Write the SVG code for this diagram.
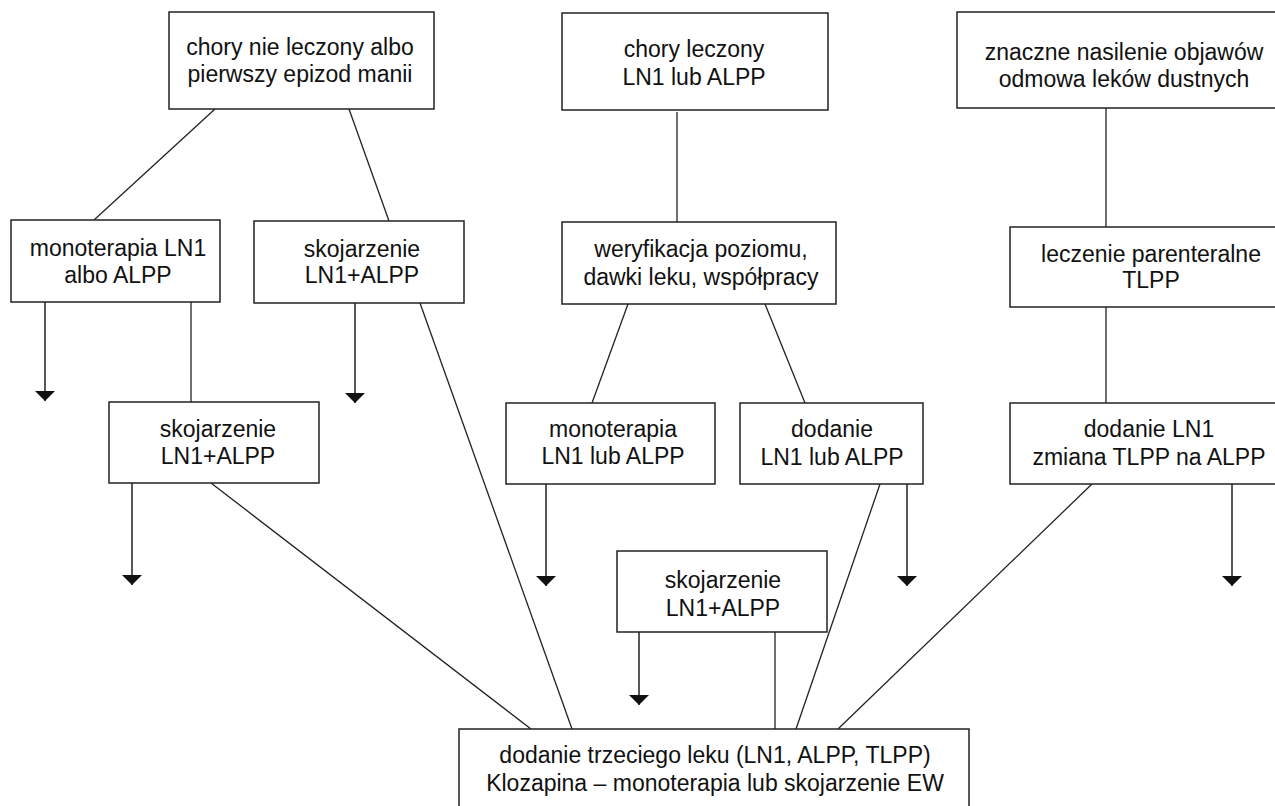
<svg xmlns="http://www.w3.org/2000/svg" width="1275" height="806" viewBox="0 0 1275 806">
<defs>
<style>
.box{fill:#fff;stroke:#222;stroke-width:1.5}
.t{font-family:"Liberation Sans",Arial,Helvetica,sans-serif;font-size:23px;fill:#111;text-anchor:middle}
.c{stroke:#222;stroke-width:1.3;fill:none}
.a{stroke:#222;stroke-width:1.5;fill:none;marker-end:url(#ah)}
</style>
<marker id="ah" markerUnits="userSpaceOnUse" markerWidth="10" markerHeight="20" viewBox="0 0 10 20" refX="10" refY="10" orient="auto">
<path d="M0,0 L10,10 L0,20 z" fill="#111"/>
</marker>
</defs>
<rect width="1275" height="806" fill="#fff"/>
<g id="connectors">
<line class="c" x1="215" y1="109" x2="94" y2="220"/>
<line class="c" x1="349" y1="109" x2="389" y2="221"/>
<line class="c" x1="677" y1="112" x2="677" y2="222"/>
<line class="c" x1="1106" y1="108" x2="1106" y2="227"/>
<line class="c" x1="191" y1="302" x2="191" y2="402"/>
<line class="c" x1="420" y1="303" x2="572" y2="729"/>
<line class="c" x1="628" y1="304" x2="592" y2="403"/>
<line class="c" x1="765" y1="304" x2="805" y2="403"/>
<line class="c" x1="1106" y1="307" x2="1106" y2="403"/>
<line class="c" x1="211" y1="483" x2="531" y2="729"/>
<line class="c" x1="880" y1="484" x2="796" y2="729"/>
<line class="c" x1="1092" y1="484" x2="838" y2="729"/>
<line class="c" x1="775" y1="632" x2="775" y2="729"/>
<line class="a" x1="45" y1="302" x2="45" y2="401"/>
<line class="a" x1="355" y1="303" x2="355" y2="403"/>
<line class="a" x1="132" y1="483" x2="132" y2="585"/>
<line class="a" x1="546" y1="484" x2="546" y2="586"/>
<line class="a" x1="907" y1="484" x2="907" y2="586"/>
<line class="a" x1="1232" y1="484" x2="1232" y2="586"/>
<line class="a" x1="639" y1="632" x2="639" y2="705"/>
</g>
<g id="n1"><rect class="box" x="169" y="12" width="265" height="97"/><text class="t" x="300" y="55">chory nie leczony albo</text><text class="t" x="300" y="82">pierwszy epizod manii</text></g>
<g id="n2"><rect class="box" x="562" y="13" width="266" height="97"/><text class="t" x="694" y="57">chory leczony</text><text class="t" x="694" y="85">LN1 lub ALPP</text></g>
<g id="n3"><rect class="box" x="957" y="12" width="334" height="96"/><text class="t" x="1124" y="60">znaczne nasilenie objawów</text><text class="t" x="1124" y="87">odmowa leków dustnych</text></g>
<g id="n4"><rect class="box" x="11" y="220" width="209" height="82"/><text class="t" x="118" y="256">monoterapia LN1</text><text class="t" x="118" y="283">albo ALPP</text></g>
<g id="n5"><rect class="box" x="254" y="221" width="210" height="82"/><text class="t" x="362" y="257">skojarzenie</text><text class="t" x="362" y="283">LN1+ALPP</text></g>
<g id="n6"><rect class="box" x="562" y="222" width="274" height="82"/><text class="t" x="701" y="257">weryfikacja poziomu,</text><text class="t" x="701" y="285">dawki leku, współpracy</text></g>
<g id="n7"><rect class="box" x="1010" y="227" width="282" height="80"/><text class="t" x="1151" y="262">leczenie parenteralne</text><text class="t" x="1151" y="288">TLPP</text></g>
<g id="n8"><rect class="box" x="109" y="402" width="210" height="81"/><text class="t" x="218" y="437">skojarzenie</text><text class="t" x="218" y="464">LN1+ALPP</text></g>
<g id="n9"><rect class="box" x="506" y="403" width="209" height="81"/><text class="t" x="613" y="437">monoterapia</text><text class="t" x="613" y="464">LN1 lub ALPP</text></g>
<g id="n10"><rect class="box" x="740" y="403" width="183" height="81"/><text class="t" x="832" y="437">dodanie</text><text class="t" x="832" y="465">LN1 lub ALPP</text></g>
<g id="n11"><rect class="box" x="1010" y="403" width="282" height="81"/><text class="t" x="1149" y="437">dodanie LN1</text><text class="t" x="1149" y="465">zmiana TLPP na ALPP</text></g>
<g id="n12"><rect class="box" x="617" y="551" width="210" height="81"/><text class="t" x="723" y="588">skojarzenie</text><text class="t" x="723" y="616">LN1+ALPP</text></g>
<g id="n13"><rect class="box" x="459" y="729" width="510" height="90"/><text class="t" x="715" y="763">dodanie trzeciego leku (LN1, ALPP, TLPP)</text><text class="t" x="715" y="791">Klozapina – monoterapia lub skojarzenie EW</text></g>
</svg>
